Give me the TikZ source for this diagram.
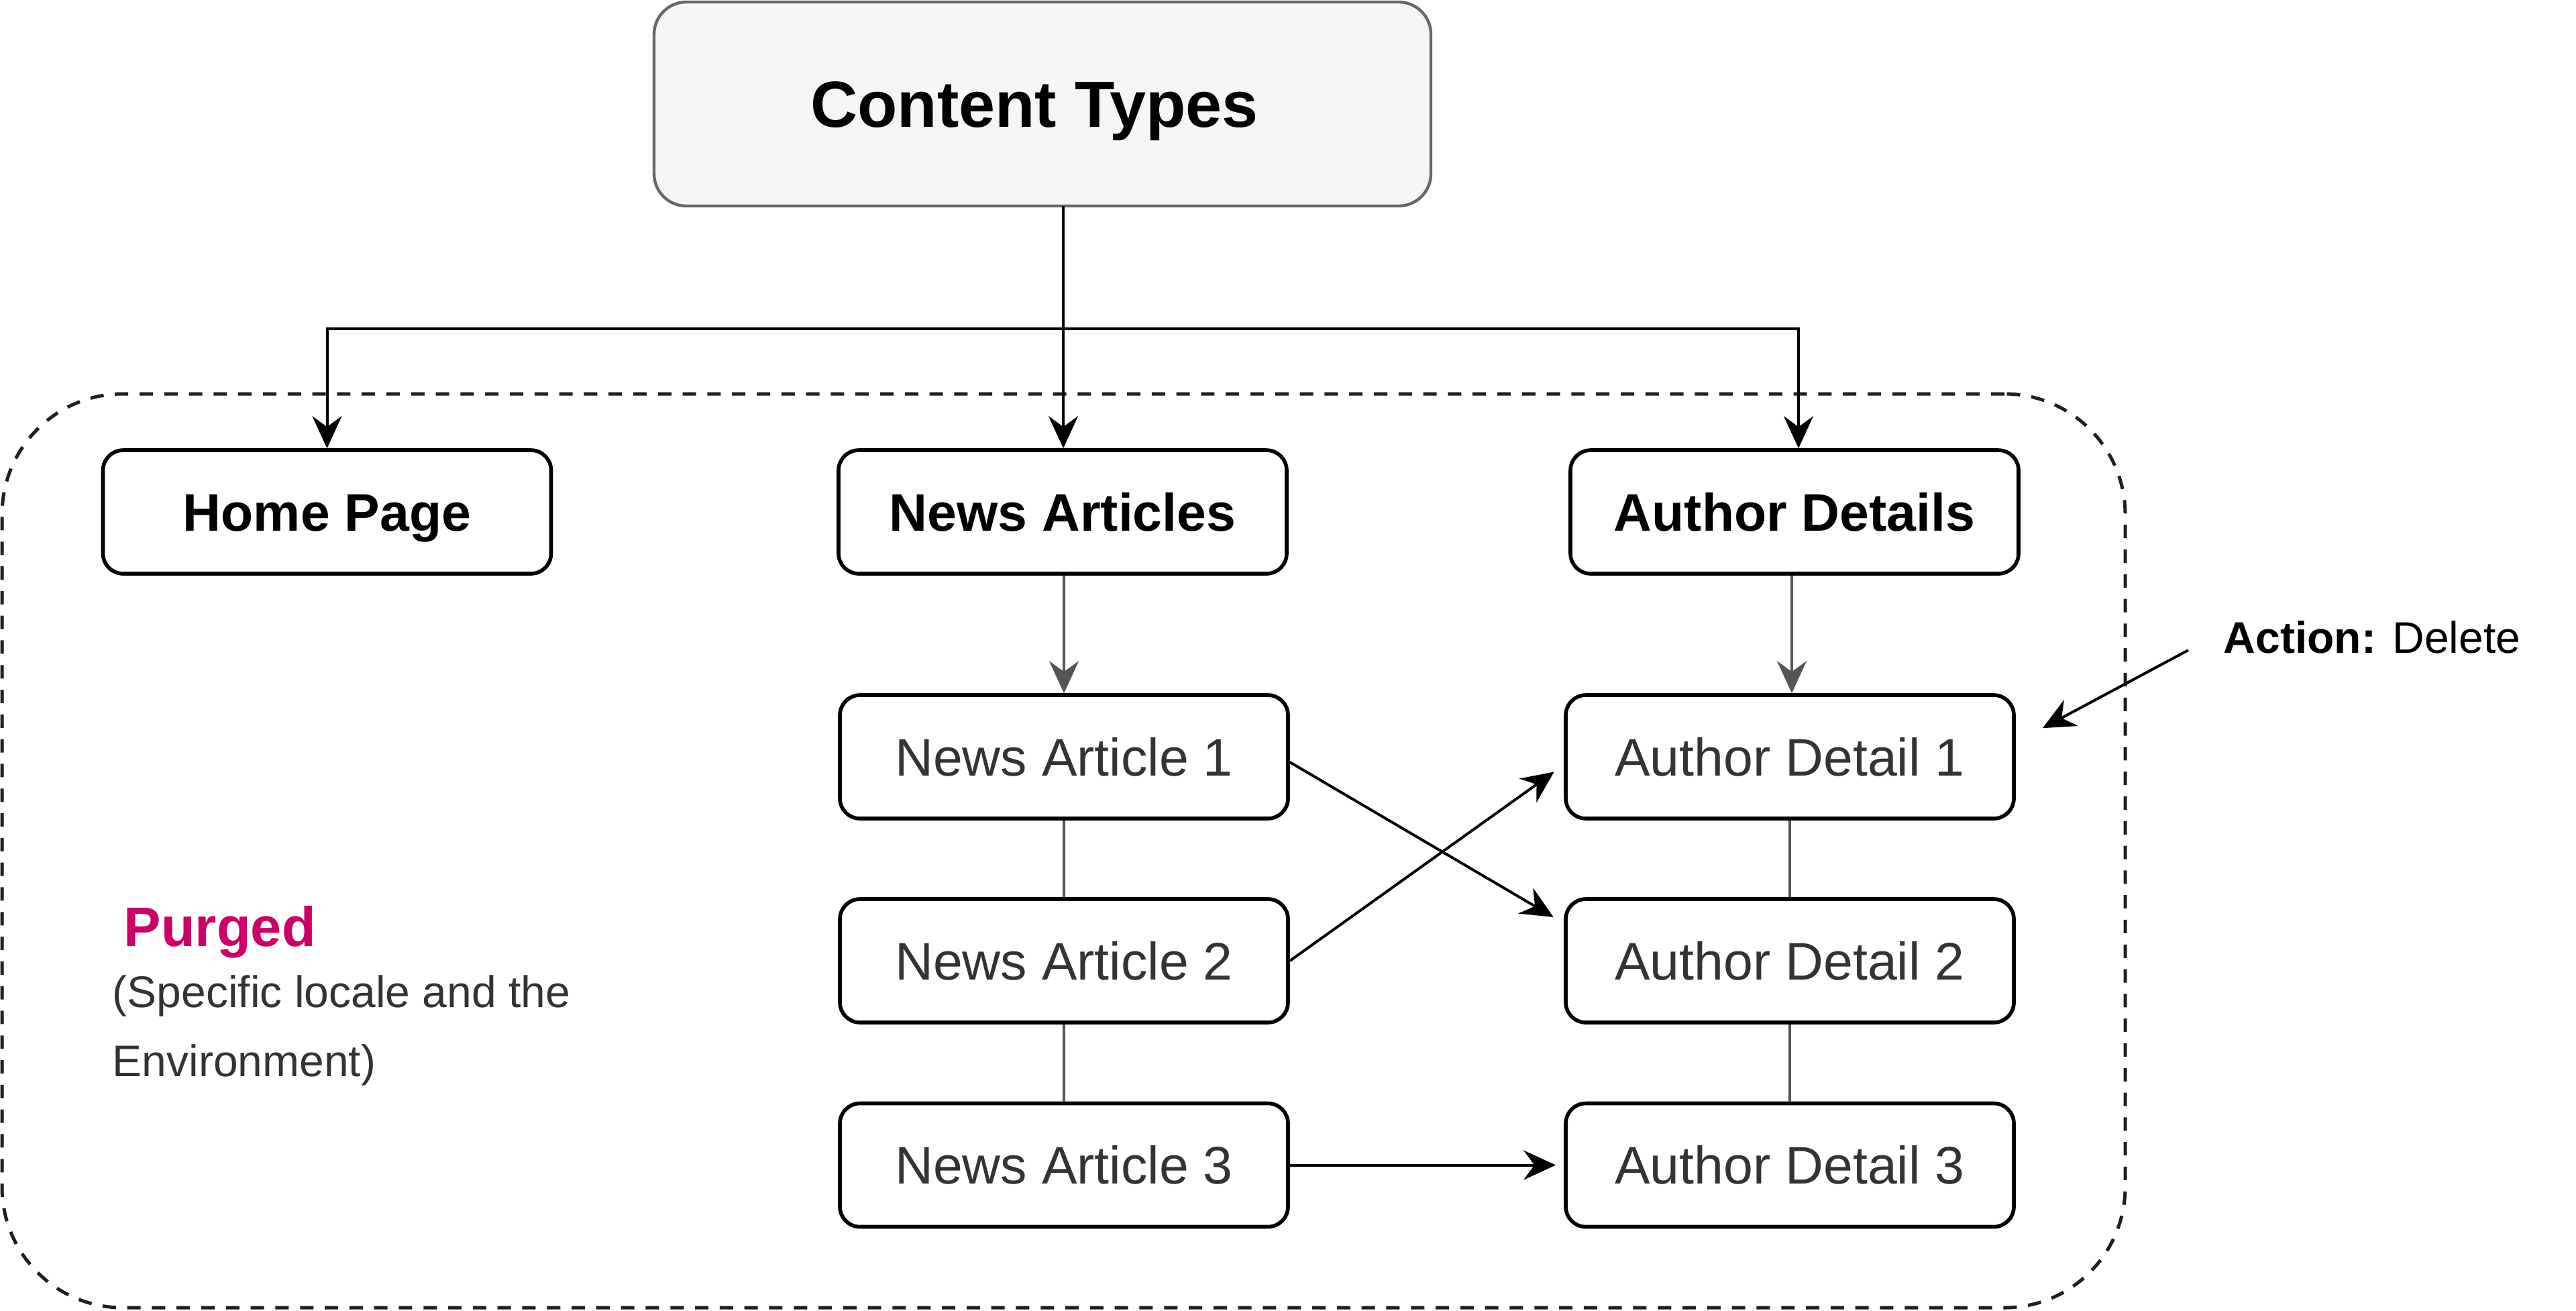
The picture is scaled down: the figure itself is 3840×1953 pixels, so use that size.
\documentclass[tikz,border=0pt]{standalone}
\usepackage{fontspec}
\setmainfont{Liberation Sans}
\usetikzlibrary{arrows.meta,positioning,calc}
\definecolor{ctfill}{HTML}{F5F5F5}
\definecolor{ctline}{HTML}{666666}
\definecolor{txtgray}{HTML}{333333}
\definecolor{purge}{HTML}{CC0066}
\definecolor{lnkgray}{HTML}{555555}
\tikzset{
  boxbase/.style={draw=black, line width=1.4pt, rounded corners=7.5pt, fill=white,
    minimum width=167pt, minimum height=46pt, inner sep=0pt, align=center,
    text height=14.1pt, text depth=0pt},
  headbox/.style={boxbase, font=\fontsize{19.7}{22}\selectfont\bfseries, text=black},
  itembox/.style={boxbase, font=\fontsize{19.7}{22}\selectfont, text=txtgray},
  topbox/.style={draw=ctline, line width=1.1pt, fill=ctfill, rounded corners=12pt,
    minimum width=289.5pt, minimum height=76pt, inner sep=0pt,
    text height=17.4pt, text depth=0pt,
    font=\fontsize{24.3}{28}\selectfont\bfseries, text=black},
  groupbox/.style={draw=black!88, line width=1.25pt, dash pattern=on 5pt off 4.2pt,
    rounded corners=45pt, minimum width=791.25pt, minimum height=340.5pt, inner sep=0pt},
  arr/.style={draw=black, line width=1pt, -{Stealth[length=12pt,width=11pt,inset=4pt]}},
  garr/.style={arr, draw=lnkgray},
  gline/.style={draw=lnkgray, line width=1pt},
  note/.style={anchor=base west, inner sep=0pt, font=\fontsize{16.5}{20}\selectfont, text=txtgray}
}
\begin{document}
\begin{tikzpicture}[x=0.25pt,y=-0.25pt]
\useasboundingbox (0,0) rectangle (3840,1953);
% group container
\node[groupbox] (grp) at (1585.5,1268) {};
% top
\node[topbox] (ct) at (1554,155) {Content Types\hspace*{6pt}};
\coordinate (ctb) at (1585,307);
% headers
\node[headbox] (hp) at (487.5,763) {Home Page};
\node[headbox] (na) at (1584,763) {News Articles};
\node[headbox] (ad) at (2675,763) {Author Details};
% items
\node[itembox] (na1) at (1586,1128) {News Article 1};
\node[itembox] (na2) at (1586,1432) {News Article 2};
\node[itembox] (na3) at (1586,1736.5) {News Article 3};
\node[itembox] (ad1) at (2668,1128) {Author Detail 1};
\node[itembox] (ad2) at (2668,1432) {Author Detail 2};
\node[itembox] (ad3) at (2668,1736.5) {Author Detail 3};
% connectors from content types
\coordinate (hbar) at (1585,490);
\draw[arr] (ctb) -- (ctb |- na.north);
\draw[arr] (hbar) -| ([xshift=0pt]hp.north);
\draw[arr] (hbar) -| ([xshift=1.5pt]ad.north);
% header to first item
\draw[garr] (na1.north |- na.south) -- (na1.north);
\draw[garr] ([xshift=0.75pt]ad1.north |- ad.south) -- ([xshift=0.75pt]ad1.north);
% vertical links
\draw[gline] (na1.south) -- (na2.north);
\draw[gline] (na2.south) -- (na3.north);
\draw[gline] (ad1.south) -- (ad2.north);
\draw[gline] (ad2.south) -- (ad3.north);
% cross arrows
\draw[arr, shorten >=4.5pt] ([yshift=-2pt]na1.east) -- ([yshift=14pt]ad2.west);
\draw[arr, shorten >=4.5pt] (na2.east) -- ([yshift=-3pt]ad1.west);
\draw[arr, shorten >=3pt] (na3.east) -- (ad3.west);
% action note
\node[note, text=black] (act) at (3314,973) {\textbf{Action:} Delete};
\coordinate (actfrom) at (3262,969);
\draw[arr] (actfrom) -- ([xshift=10pt,yshift=-13pt]ad1.north east);
% purged note
\node[anchor=base west, inner sep=0pt, font=\fontsize{20.75}{24}\selectfont\bfseries, text=purge] (pg) at (184,1410) {Purged};
\node[note] (pg1) at (167,1501) {(Specific locale and the};
\node[note] (pg2) at (167,1604) {Environment)};
\end{tikzpicture}
\end{document}
